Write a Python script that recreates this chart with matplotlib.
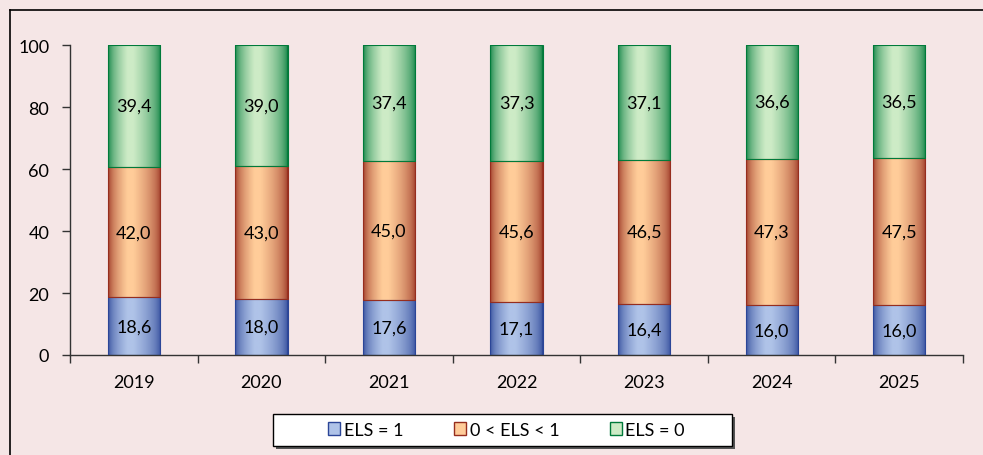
import matplotlib.pyplot as plt
import numpy as np
from matplotlib.colors import LinearSegmentedColormap
from matplotlib.patches import Rectangle, Patch
from matplotlib.lines import Line2D

plt.rcParams['font.family'] = ['Lato', 'DejaVu Sans']

years = ['2019', '2020', '2021', '2022', '2023', '2024', '2025']
els1 = [18.6, 18.0, 17.6, 17.1, 16.4, 16.0, 16.0]
els_mid = [42.0, 43.0, 45.0, 45.6, 46.5, 47.3, 47.5]
els0 = [39.4, 39.0, 37.4, 37.3, 37.1, 36.6, 36.5]
names = ['ELS = 1', '0 < ELS < 1', 'ELS = 0']

bg = '#F5E6E6'
# (edge colour, centre colour)
cols = [('#2B4597', '#AFC3E8'), ('#962D1E', '#FFCC99'), ('#007A3A', '#CDEBC6')]

W, H = 983, 456
fig = plt.figure(figsize=(W / 100, H / 100), dpi=100, facecolor=bg)
ax = fig.add_axes([0.0712, 0.2193, 0.9085, 0.6797])
ax.set_facecolor(bg)

# frame around the chart area
fig.add_artist(Line2D([0.0102, 0.0102], [0, 0.976], color='black', lw=1.2))
fig.add_artist(Line2D([0.0102, 1], [0.976, 0.976], color='black', lw=1.2))

w = 0.41
x = np.arange(len(years))
shape = np.concatenate([np.linspace(0, 1, 24), np.ones(6), np.linspace(1, 0, 34)])

bottom = np.zeros(len(years))
for series, (edge, centre) in zip([els1, els_mid, els0], cols):
    cmap = LinearSegmentedColormap.from_list('g', [edge, centre])
    for i, v in enumerate(series):
        ax.imshow(np.sqrt(shape)[None, :], cmap=cmap, aspect='auto', vmin=0, vmax=1,
                  extent=(x[i] - w / 2, x[i] + w / 2, bottom[i], bottom[i] + v),
                  zorder=2, interpolation='bilinear')
        ax.add_patch(Rectangle((x[i] - w / 2, bottom[i]), w, v, fill=False,
                               edgecolor=edge, lw=0.8, zorder=3))
        ax.text(x[i], bottom[i] + v / 2, f'{v:.1f}'.replace('.', ','),
                ha='center', va='center', fontsize=13, color='black', zorder=4)
    bottom += np.array(series)

ax.set_xlim(-0.5, len(years) - 0.5)
ax.set_ylim(0, 100)
ax.set_yticks([0, 20, 40, 60, 80, 100])
ax.set_xticks(x)
ax.set_xticklabels(years)
ax.set_xticks(np.arange(-0.5, len(years)), minor=True)
ax.tick_params(axis='x', which='major', length=0, pad=14, labelsize=13)
ax.tick_params(axis='x', which='minor', length=6, direction='out', width=1, color='#333333')
ax.tick_params(axis='y', length=6, direction='out', width=1, color='#333333', labelsize=13, pad=9)
for s in ['top', 'right']:
    ax.spines[s].set_visible(False)
for s in ['left', 'bottom']:
    ax.spines[s].set_color('#333333')
    ax.spines[s].set_linewidth(1)

# legend box with shadow, drawn by hand so its padding matches
bx0, bx1, by0, by1 = 273, 732, 415, 447
fig.add_artist(Rectangle(((bx0 + 3) / W, 1 - (by1 + 3) / H), (bx1 - bx0) / W, (by1 - by0) / H,
                         facecolor='#555555', edgecolor='none', transform=fig.transFigure))
fig.add_artist(Rectangle((bx0 / W, 1 - by1 / H), (bx1 - bx0) / W, (by1 - by0) / H,
                         facecolor='white', edgecolor='black', lw=1, transform=fig.transFigure))

handles = [Patch(facecolor=c, edgecolor=e, lw=1) for e, c in cols]
leg = fig.legend(handles, names, loc='center', bbox_to_anchor=(0.5153, 0.0548), ncol=3,
                 frameon=False, fontsize=13,
                 handlelength=0.67, handleheight=0.75, handletextpad=0.2, columnspacing=2.8,
                 borderpad=0, borderaxespad=0)

fig.savefig('out.png', dpi=100, facecolor=bg)
